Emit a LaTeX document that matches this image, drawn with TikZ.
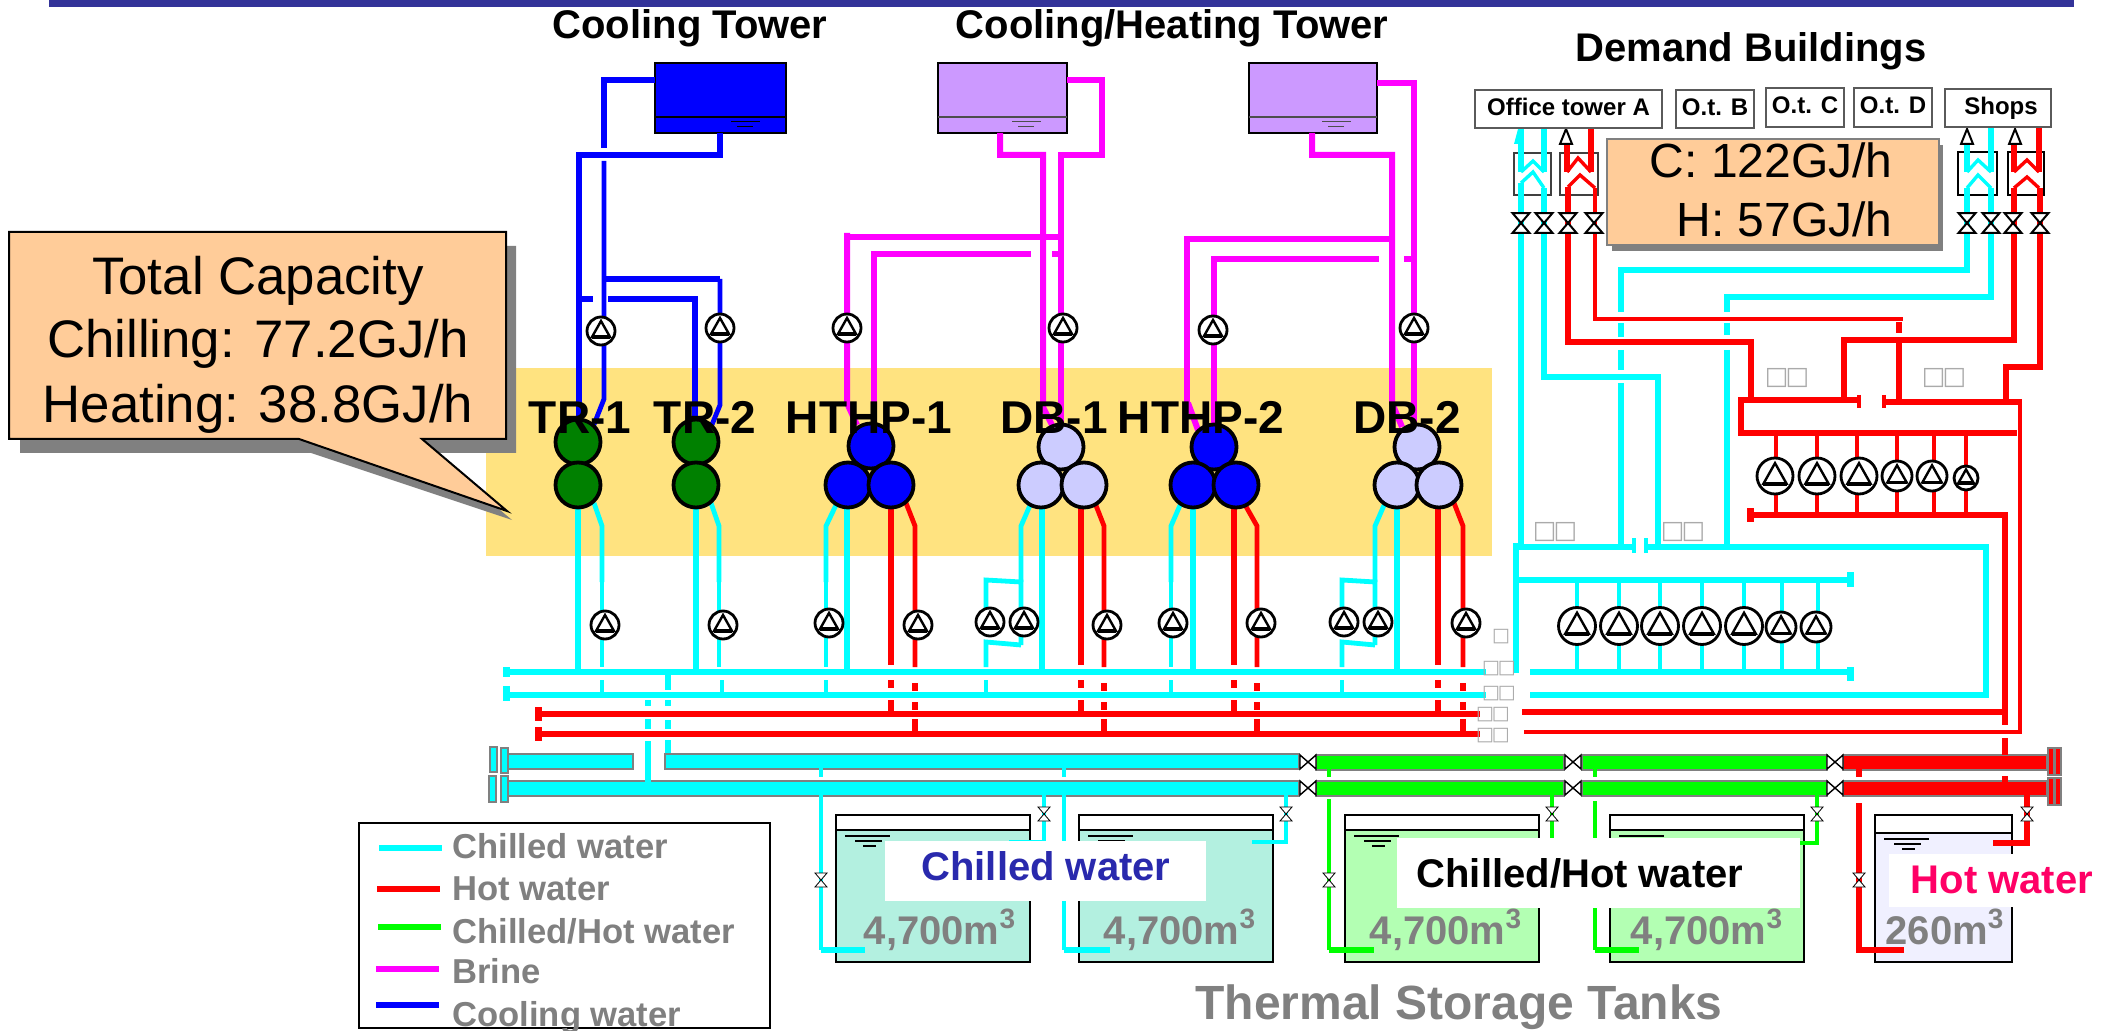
\documentclass[tikz,border=0pt]{standalone}
\usepackage{fontspec}
\setmainfont{Liberation Sans}
\newfontfamily\symfont{DejaVu Sans}
\definecolor{cwc}{HTML}{00FFFF}
\definecolor{hwc}{HTML}{FF0000}
\definecolor{mwc}{HTML}{00FF00}
\definecolor{bwc}{HTML}{FF00FF}
\definecolor{twc}{HTML}{0000FF}
\definecolor{lilac}{HTML}{CC99FF}
\definecolor{peach}{HTML}{FFCC99}
\definecolor{band}{HTML}{333399}
\definecolor{zone}{HTML}{FFE380}
\definecolor{lav}{HTML}{CCCCFF}
\definecolor{tkc}{HTML}{B3F0E0}
\definecolor{tkm}{HTML}{B3FFB3}
\definecolor{tkh}{HTML}{F0F0FF}
\definecolor{ash}{HTML}{808080}
\definecolor{tofu}{HTML}{AAAAAA}
\tikzset{
	cw/.style={draw=cwc,line width=3pt},
	hw/.style={draw=hwc,line width=3pt},
	mw/.style={draw=mwc,line width=3pt},
	bw/.style={draw=bwc,line width=3pt},
	tw/.style={draw=twc,line width=3pt},
	tp/.style={line width=2.4pt},
	fp/.style={line width=3.3pt},
	cv/.style={line width=1.7pt},
	unitc/.style={circle,draw,line width=1.9pt,minimum size=22.5pt,inner sep=0pt},
	pumpc/.style={circle,draw,fill=white,line width=1.4pt,inner sep=0pt},
	vlv/.style={draw,fill=white,line width=0.4pt},
	vlvb/.style={draw,fill=white,line width=1pt},
	head/.style={font=\fontsize{20}{22}\bfseries\selectfont,anchor=base},
	unitl/.style={font=\fontsize{23}{25}\bfseries\selectfont,anchor=base},
	bigt/.style={font=\fontsize{26.4}{28}\selectfont,anchor=base},
	midt/.style={font=\fontsize{24}{26}\selectfont,anchor=base east,inner sep=0pt},
	tanktxt/.style={font=\fontsize{20}{22}\bfseries\selectfont,text=ash,anchor=base},
	legt/.style={font=\fontsize{17.3}{19}\bfseries\selectfont,text=ash,anchor=base west,inner sep=0pt},
	bldbox/.style={draw=ash!70!black,fill=white,line width=0.7pt,font=\fontsize{12}{14}\bfseries\selectfont,text height=8.6pt,text depth=2.4pt,inner sep=0pt},
	lblbox/.style={fill=white,inner sep=0pt},
	tofua/.style={font=\symfont\fontsize{12.5}{14}\selectfont,text=tofu,inner sep=0pt},
	tofub/.style={font=\symfont\fontsize{9.5}{11}\selectfont,text=tofu,inner sep=0pt},
	tubeb/.style={draw=ash,line width=0.9pt}
}
\newcommand{\pump}[4]{
	\node[pumpc,minimum size={#4*1pt}] (pmp#1) at (#2,#3) {};
	\draw[line width=1.2pt,fill=white,shift={(#2,#3)},scale=#4/14] (0,-10)--(9,6)--(-9,6)--cycle;
	\draw[line width=1.9pt,shift={(#2,#3)},scale=#4/14] (-9,6)--(9,6);
}
\newcommand{\hourv}[4]{
	\draw[#4,shift={(#1,#2)},scale=#3] (-6,-7)--(6,-7)--(-6,7)--(6,7)--cycle;
}
\newcommand{\butterv}[2]{
	\draw[vlvb,line width=0.7pt,shift={(#1,#2)}] (-8,-7)--(8,7)--(8,-7)--(-8,7)--cycle;
}
\newcommand{\tower}[5]{
	\draw[line width=1pt,fill=#4] (#2,63) rectangle (#3,133);
	\draw[line width=0.6pt,draw=#5] (#2,117)--(#3,117);
	\draw[line width=0.5pt,draw=#5] (#3-55,122)--(#3-26,122);
	\draw[line width=0.5pt,draw=#5] (#3-49,127)--(#3-33,127);
	\coordinate (#1) at (#2,63);
}
\newcommand{\tank}[5]{
	\draw[line width=1.1pt,fill=white] (#2,815) rectangle (#3,962);
	\draw[line width=1.1pt,fill=#5] (#2,#4) rectangle (#3,962);
	\draw[line width=0.6pt] (#2+9,#4+6)--(#2+54,#4+6);
	\draw[line width=0.6pt] (#2+19,#4+11)--(#2+46,#4+11);
	\draw[line width=0.6pt] (#2+27,#4+16)--(#2+40,#4+16);
	\coordinate (#1) at (#2,815);
}
\newcommand{\tube}[5]{
	\draw[tubeb,fill=#1] (#2,#4) rectangle (#3,#5);
}
\newcommand{\bld}[6]{
	\node[bldbox,minimum width={(#4-#2)*0.5pt},minimum height={(#5-#3)*0.5pt}] (#1) at ({(#2+#4)/2},{(#3+#5)/2}) {#6};
}
\begin{document}
\begin{tikzpicture}[x=0.5pt,y=-0.5pt]
\useasboundingbox (0,0) rectangle (2102,1031);

\fill[band] (49,0) rectangle (2074,7);
\fill[zone] (486,368) rectangle (1492,556);

\tower{ct}{655}{786}{twc}{black}
\tower{cht1}{938}{1067}{lilac}{ash!60!black}
\tower{cht2}{1249}{1377}{lilac}{ash!60!black}

\draw[tw,fp] (655,80)--(604,80)--(604,148);
\draw[tw,tp] (604,161)--(604,399)--(593,427);
\draw[tw] (720,133)--(720,155)--(579,155)--(579,433);
\draw[tw] (579,299)--(593,299);
\draw[tw] (608,299)--(695,299)--(695,433);
\draw[tw] (604,279)--(720,279);
\draw[tw,tp] (720,279)--(720,405)--(711,427);

\draw[bw] (1000,133)--(1000,155)--(1043,155)--(1043,407)--(1052,425);
\draw[bw,fp] (1067,80)--(1102,80)--(1102,155)--(1061,155)--(1061,425);
\draw[bw] (847,233)--(847,403)--(857,425);
\draw[bw] (847,237)--(1061,237);
\draw[bw] (874,430)--(874,254)--(1031,254);
\draw[bw] (1052,254)--(1061,254);
\draw[bw] (1312,133)--(1312,155)--(1392,155)--(1392,403)--(1402,427);
\draw[bw,fp] (1377,83)--(1414,83)--(1414,425);
\draw[bw] (1188,403)--(1198,430);
\draw[bw] (1392,239)--(1187,239)--(1187,403);
\draw[bw] (1214,430)--(1214,259)--(1379,259);
\draw[bw] (1404,259)--(1414,259);

\draw[cw] (578,485)--(578,672);
\draw[cw] (696,485)--(696,672);
\draw[cw] (847,485)--(847,672);
\draw[cw] (1042,485)--(1042,672);
\draw[cw] (1193,485)--(1193,672);
\draw[cw] (1397,485)--(1397,672);
\foreach \xa/\xb in {594/602,711/719,837/826,1031/1021,1181/1171,1385/1375}{
	\draw[cw,tp] (\xa,503)--(\xb,526)--(\xb,582);
}
\foreach \x in {602,719,826,1171}{
	\draw[cw,tp] (\x,582)--(\x,667);
}
\foreach \x in {602,722,826,986,1171,1342}{
	\draw[cw,tp] (\x,680)--(\x,692);
}
\foreach \xa/\xb in {1021/986,1375/1342}{
	\draw[cw,tp] (\xa,645)--(\xa,582)--(\xb,580)--(\xb,610);
	\draw[cw,tp] (\xa,645)--(\xb,642)--(\xb,667);
}

\foreach \x in {891,1081,1234,1438}{
	\draw[hw,fp] (\x,508)--(\x,665);
	\draw[hw] (\x,680)--(\x,688);
	\draw[hw] (\x,700)--(\x,712);
}
\foreach \xa/\xb in {906/915,1095/1104,1244/1257,1454/1463}{
	\draw[hw,tp] (\xa,503)--(\xb,526)--(\xb,667);
	\draw[hw] (\xb,683)--(\xb,691);
	\draw[hw] (\xb,702)--(\xb,710);
	\draw[hw] (\xb,719)--(\xb,733);
}

\draw[cw] (503,672)--(1486,672);
\draw[cw] (503,695)--(1486,695);
\draw[cw,line width=3.5pt] (506,667)--(506,677);
\draw[cw,line width=3.5pt] (506,686)--(506,701);
\draw[hw] (538,714)--(1480,714);
\draw[hw] (538,734)--(1480,734);
\draw[hw,line width=3.5pt] (538,707)--(538,721);
\draw[hw,line width=3.5pt] (538,727)--(538,741);
\draw[cw] (1530,672)--(1850,672);
\draw[cw,line width=3.5pt] (1850,667)--(1850,681);
\draw[cw] (1530,695)--(1986,695)--(1986,547)--(1646,547);
\draw[hw] (1522,712)--(2005,712);
\draw[hw,tp] (1524,732)--(2020,732)--(2020,402);

\foreach \x/\a/\b in {648/700/706,648/719/729,648/741/783,668/675/690,668/700/706,668/720/729,668/740/755}{
	\draw[cw] (\x,\a)--(\x,\b);
}

\tank{tk1}{836}{1030}{830}{tkc}
\tank{tk2}{1079}{1273}{830}{tkc}
\tank{tk3}{1345}{1539}{830}{tkm}
\tank{tk4}{1610}{1804}{830}{tkm}
\tank{tk5}{1875}{2012}{833}{tkh}

\tube{cwc}{508}{633}{754}{769}
\tube{cwc}{665}{1299}{754}{769}
\tube{cwc}{508}{1299}{781}{796}
\tube{cwc}{490}{497}{747}{772}
\tube{cwc}{501}{508}{748}{773}
\tube{cwc}{489}{496}{776}{802}
\tube{cwc}{501}{508}{776}{802}
\tube{mwc}{1316}{1564}{755}{770}
\tube{mwc}{1582}{1827}{755}{770}
\tube{mwc}{1316}{1564}{781}{796}
\tube{mwc}{1582}{1827}{781}{796}
\tube{hwc}{1843}{2047}{755}{770}
\tube{hwc}{1843}{2047}{781}{796}
\tube{hwc}{2048}{2054}{748}{775}
\tube{hwc}{2055}{2061}{748}{775}
\tube{hwc}{2048}{2054}{778}{805}
\tube{hwc}{2055}{2061}{778}{805}
\draw[cw] (648,741)--(648,783);

\foreach \x/\a/\b in {821/768/777,1064/768/777}{
	\draw[cw,tp] (\x,\a)--(\x,\b);
}
\draw[cw,tp] (821,795)--(821,950);
\draw[cw] (821,950)--(865,950);
\draw[cw,tp] (1064,795)--(1064,950);
\draw[cw] (1064,950)--(1110,950);
\draw[cw,tp] (1044,795)--(1044,842)--(1009,842);
\draw[cw,tp] (1286,795)--(1286,842)--(1252,842);
\draw[mw,tp] (1329,769)--(1329,777);
\draw[mw,tp] (1329,799)--(1329,950);
\draw[mw] (1329,950)--(1374,950);
\draw[mw,tp] (1552,795)--(1552,840);
\draw[mw,tp] (1595,769)--(1595,777);
\draw[mw,tp] (1595,801)--(1595,950);
\draw[mw] (1595,950)--(1639,950);
\draw[mw,tp] (1817,795)--(1817,843)--(1800,843);
\draw[hw,fp] (1859,769)--(1859,777);
\draw[hw,fp] (1859,803)--(1859,950)--(1904,950);
\draw[hw] (2027,795)--(2027,843)--(1993,843);

\foreach \x/\y in {821/880,1044/814,1286/814,1329/880,1552/814,1817/814,1859/880,2027/814}{
	\hourv{\x}{\y}{1}{vlv}
}
\foreach \x in {1308,1573,1835}{
	\butterv{\x}{762}
	\butterv{\x}{788}
}

\draw[line width=0.7pt,draw=ash!50!black,fill=white] (1514,153) rectangle (1551,195);
\draw[line width=0.7pt,draw=ash!50!black,fill=white] (1560,153) rectangle (1598,195);
\draw[line width=0.7pt,fill=white] (1958,152) rectangle (1997,195);
\draw[line width=0.7pt,fill=white] (2008,152) rectangle (2044,195);

\draw[cw] (1521,128)--(1521,172);
\draw[cw] (1544,128)--(1544,172);
\draw[cw,cv] (1521,172)--(1533,161)--(1544,172);
\draw[cw] (1521,546)--(1521,183);
\draw[cw,cv] (1521,183)--(1533,172)--(1544,188);
\draw[cw] (1544,188)--(1544,377)--(1658,377)--(1658,546);
\fill[cwc] (1518,129)--(1514,144)--(1524,144)--cycle;
\draw[hw] (1567,145)--(1567,172);
\draw[hw] (1591,128)--(1591,172);
\draw[hw,cv] (1567,172)--(1578,158)--(1591,172);
\draw[hw,fp] (1751,400)--(1751,342)--(1568,342)--(1568,187);
\draw[hw,cv] (1568,187)--(1580,175)--(1595,188);
\draw[hw,tp] (1595,188)--(1595,319)--(1903,319);
\draw[cw] (1967,145)--(1967,172);
\draw[cw] (1991,128)--(1991,172);
\draw[cw,cv] (1967,172)--(1978,160)--(1991,172);
\draw[cw,cv] (1967,188)--(1978,175)--(1991,188);
\draw[cw] (1621,312)--(1621,270)--(1967,270)--(1967,188);
\draw[cw] (1991,188)--(1991,297)--(1727,297)--(1727,312);
\foreach \x/\a/\b in {1621/323/337,1621/350/370,1621/383/546,1727/323/335,1727/350/546}{
	\draw[cw] (\x,\a)--(\x,\b);
}
\draw[hw] (2014,145)--(2014,172);
\draw[hw] (2039,128)--(2039,172);
\draw[hw,cv] (2014,172)--(2027,160)--(2039,172);
\draw[hw,fp] (1844,400)--(1844,340)--(2014,340)--(2014,188);
\draw[hw,cv] (2014,188)--(2027,177)--(2039,188);
\draw[hw,fp] (2040,188)--(2040,367)--(2006,367)--(2006,402);
\draw[hw,fp] (1899,322)--(1899,333);
\draw[hw,fp] (1899,343)--(1899,400);

\draw[cw] (1516,673)--(1516,543);
\draw[cw] (1516,547)--(1634,547);
\draw[cw] (1513,580)--(1850,580);
\draw[cw] (1516,546)--(1516,583);
\draw[cw,line width=3.5pt] (1850,572)--(1850,587);
\draw[cw,line width=1.6pt] (1634,538)--(1634,553);
\draw[cw,line width=1.6pt] (1646,538)--(1646,553);
\draw[hw] (1741,400)--(1859,400);
\draw[hw] (1884,402)--(2022,402);
\draw[hw,line width=1.6pt] (1859,395)--(1859,408);
\draw[hw,line width=1.6pt] (1884,395)--(1884,408);
\draw[hw,fp] (1741,397)--(1741,436);
\draw[hw] (1741,433)--(2017,433);
\draw[hw] (1750,515)--(2008,515);
\draw[hw,line width=3.5pt] (1750,508)--(1750,522);
\foreach \x in {1776,1817,1857,1897,1934,1966}{
	\draw[hw,tp] (\x,433)--(\x,513);
}
\foreach \x in {1577,1619,1660,1702,1744,1782,1818}{
	\draw[cw,tp] (\x,580)--(\x,672);
}
\draw[hw,fp] (2005,515)--(2005,725);
\foreach \a/\b in {738/755,776/783}{
	\draw[hw,fp] (2005,\a)--(2005,\b);
}

\foreach \x/\a in {1521/223,1544/223,1568/223,1594/223,1967/223,1991/223,2013/223,2040/223}{
	\hourv{\x}{\a}{1.4}{vlvb}
}
\foreach \x in {1566,1967,2015}{
	\draw[line width=1pt,fill=white] (\x,129)--(\x+6,144)--(\x-6,144)--cycle;
}

\foreach[count=\c] \x/\y/\r in {601/331/14,720/328/14,847/328/14,1063/328/14,1213/330/14,1414/328/14,
	605/625/14,723/625/14,829/623/14,918/625/14,990/622/14,1024/622/14,1107/625/14,1173/623/14,1261/623/14,1344/622/14,1378/622/14,1466/623/14,
	1577/626/18.5,1619/626/18.5,1660/626/18.5,1702/626/18.5,1744/626/18.5,1781/627/15,1816/627/15,
	1775/476/18,1817/476/18,1859/476/18,1897/476/15,1932/476/15,1966/478/12}{
	\pump{\c}{\x}{\y}{\r}
}

\foreach \n/\x/\y/\c in {tra/578/442/black!50!green,trb/578/485/black!50!green,tga/696/442/black!50!green,tgb/696/485/black!50!green,
	hpa/871/446/twc,hpb/848/485/twc,hpc/891/485/twc,dba/1061/447/lav,dbb/1041/485/lav,dbc/1084/485/lav,
	hqa/1214/447/twc,hqb/1193/485/twc,hqc/1236/485/twc,dca/1417/447/lav,dcb/1397/485/lav,dcc/1439/485/lav}{
	\node[unitc,fill=\c] (\n) at (\x,\y) {};
}
\foreach \n/\x/\t in {ltr/580/TR-1,ltg/705/TR-2,lhp/869/HTHP-1,ldb/1054/DB-1,lhq/1201/HTHP-2,ldc/1407/DB-2}{
	\node[unitl] (\n) at (\x,434) {\t};
}

\node[head] (tct) at (690,39) {Cooling Tower};
\node[head] (tch) at (1172,39) {Cooling/Heating Tower};
\node[head] (tdb) at (1751,62) {Demand Buildings};

\bld{bla}{1475}{90}{1662}{128}{Office tower A}
\bld{blb}{1676}{90}{1754}{128}{O.t. B}
\bld{blc}{1766}{88}{1844}{127}{O.t. C}
\bld{bld}{1854}{88}{1932}{127}{O.t. D}
\bld{ble}{1945}{89}{2051}{127}{\hspace{3pt}Shops}

\fill[ash] (1612,145) rectangle (1943,251);
\draw[line width=0.8pt,draw=ash,fill=peach] (1607,139) rectangle (1939,245);
\node[midt] (loadc) at (1893,178) {C: 122GJ/h};
\node[midt] (loadh) at (1893,237) {H: 57GJ/h};

\fill[ash] (20,246)--(516,246)--(516,453)--(432,453)--(512,520)--(311,453)--(20,453)--cycle;
\draw[line width=1pt,fill=peach] (9,232)--(506,232)--(506,439)--(422,439)--(507,511)--(299,439)--(9,439)--cycle;
\node[bigt] (capa) at (258,295) {Total Capacity};
\node[bigt] (capb) at (258,358) {Chilling: 77.2GJ/h};
\node[bigt] (capc) at (258,423) {Heating: 38.8GJ/h};

\foreach \n/\x/\y/\s in {ua/1787/378/tofua,ub/1944/378/tofua,uc/1555/532/tofua,ud/1683/532/tofua,ue/1499/669/tofub,uf/1499/694/tofub,ug/1493/715/tofub,uh/1493/736/tofub}{
	\node[\s] (\n) at (\x,\y) {□\kern-0.12em□};
}
\node[tofub] (ui) at (1501,637) {□};

\node[lblbox,minimum width=160.5pt,minimum height=30pt] (lcw) at (1045,871) {};
\node[head,text=band!80!blue] (tcw) at (1046,880) {Chilled water};
\node[lblbox,minimum width=201.5pt,minimum height=35pt] (lmw) at (1598,873) {};
\node[head] (tmw) at (1580,887) {Chilled/Hot water};
\node[lblbox,minimum width=104pt,minimum height=26.5pt] (lhw) at (1993,880) {};
\node[head,text={rgb,255:red,255;green,0;blue,102}] (thw) at (2002,893) {Hot water};

\node[tanktxt] (va) at (940,944) {4,700m\textsuperscript{3}};
\node[tanktxt] (vb) at (1180,944) {4,700m\textsuperscript{3}};
\node[tanktxt] (vc) at (1446,944) {4,700m\textsuperscript{3}};
\node[tanktxt] (vd) at (1707,944) {4,700m\textsuperscript{3}};
\node[tanktxt] (ve) at (1945,944) {260m\textsuperscript{3}};
\node[font=\fontsize{24}{26}\bfseries\selectfont,text=ash,anchor=base] (ttt) at (1459,1019) {Thermal Storage Tanks};

\draw[line width=0.8pt,fill=white] (359,823) rectangle (770,1028);
\foreach \c/\xa/\xb/\y/\yt/\t in {cw/379/442/848/858/Chilled water,hw/377/440/889/900/Hot water,mw/378/441/927/943/Chilled\slash Hot water,bw/376/439/969/983/Brine,tw/376/439/1005/1026/Cooling water}{
	\draw[\c] (\xa,\y)--(\xb,\y);
	\node[legt] (leg\yt) at (452,\yt) {\t};
}
\end{tikzpicture}
\end{document}
